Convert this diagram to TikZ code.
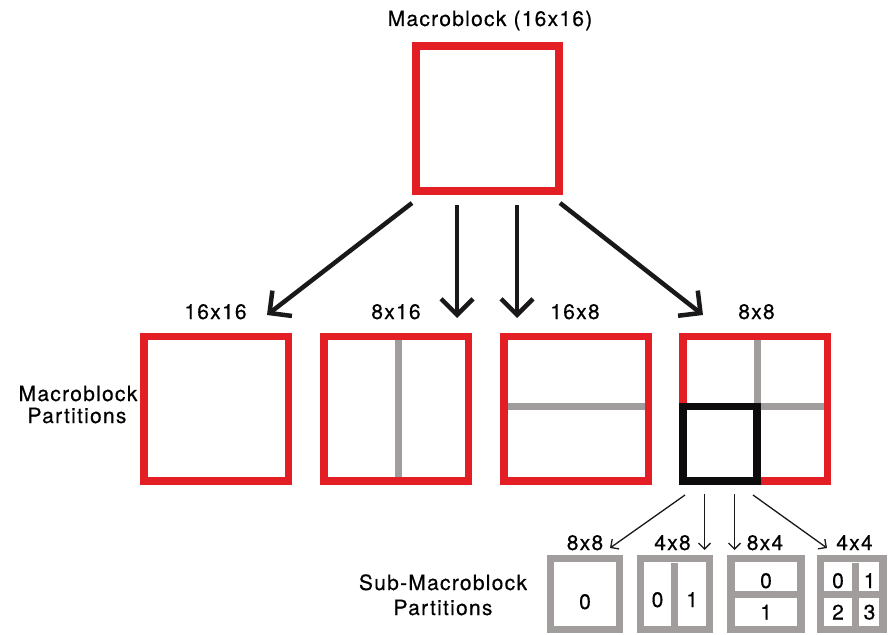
\documentclass[tikz,border=0pt]{standalone}
\usepackage{fontspec}
\setmainfont{TeX Gyre Heros}[LetterSpace=6, FakeBold=0.5]
\usetikzlibrary{arrows.meta}

\definecolor{mbred}{HTML}{E31E24}
\definecolor{mbgray}{HTML}{A19D9D}
\definecolor{mbblack}{HTML}{0D0B0B}
\definecolor{arrowc}{HTML}{1A1818}

\tikzset{
  lbl/.style={anchor=base, inner sep=0pt, font=\fontsize{21}{24}\selectfont},
  redsq/.style={draw=mbred, line width=7.5pt, minimum width=144.5pt, minimum height=144.5pt, inner sep=0pt},
  blacksq/.style={draw=mbblack, line width=7.5pt, minimum width=74.25pt, minimum height=74.25pt, inner sep=0pt},
  graybox/.style={draw=mbgray, line width=7.2pt, minimum height=70.5pt, inner sep=0pt},
  divider/.style={draw=mbgray, line width=7pt},
  bigarrow/.style={draw=arrowc, line width=4.5pt, -{Straight Barb[length=16pt,width=32pt]}},
  smallarrow/.style={draw=arrowc, line width=1.3pt, -{Straight Barb[length=6pt,width=12pt]}},
}

\begin{document}
\begin{tikzpicture}[x=1pt, y=-1pt]
\useasboundingbox (0,0) rectangle (888,634);

% top macroblock
\node[lbl] (title) at (490,26) {Macroblock (16x16)};
\node[redsq, line width=8pt, minimum width=143.5pt, minimum height=145pt] (mb) at (487.5,118.5) {};

% macroblock partitions
\node[redsq] (p1) at (216,408.5) {};
\node[redsq] (p2) at (396,408.5) {};
\node[redsq] (p3) at (576.3,408.5) {};
\node[redsq] (p4) at (755,408.5) {};

\draw[divider] (398,340) -- (398,477.2);
\draw[divider] (507.8,406.7) -- (644.8,406.7);
\draw[divider] (757.5,340) -- (757.5,477);
\draw[divider] (686.5,406.7) -- (823.5,406.7);
\node[blacksq] (sub) at (719.875,443.625) {};

\node[lbl] (l1) at (215.5,319) {16x16};
\node[lbl] (l2) at (396,319) {8x16};
\node[lbl] (l3) at (575,319) {16x8};
\node[lbl] (l4) at (756.5,319) {8x8};

\node[lbl] (mp1) at (78,401) {Macroblock};
\node[lbl] (mp2) at (77,423) {Partitions};

% arrows from the macroblock to its partitions
\coordinate (a1s) at (412,203); \coordinate (a1e) at (267,315);
\coordinate (a2s) at (457,205); \coordinate (a2e) at (457,318);
\coordinate (a3s) at (517,205); \coordinate (a3e) at (517,318);
\coordinate (a4s) at (560,203); \coordinate (a4e) at (703,315);
\draw[bigarrow] (a1s) -- (a1e);
\draw[bigarrow] (a2s) -- (a2e);
\draw[bigarrow] (a3s) -- (a3e);
\draw[bigarrow] (a4s) -- (a4e);

% sub-macroblock partitions
\node[graybox, minimum width=68.5pt] (s1) at (585,594) {};
\node[graybox, minimum width=69pt] (s2) at (675,594) {};
\node[graybox, minimum width=70pt] (s3) at (766,594) {};
\node[graybox, minimum width=62.5pt] (s4) at (851.75,594) {};

\draw[divider] (674.5,562.5) -- (674.5,625.5);
\draw[divider] (734.6,594.7) -- (797.4,594.7);
\draw[divider] (855,562.5) -- (855,625.5);
\draw[divider] (824.1,594.7) -- (879.4,594.7);

\node[lbl] (d10) at (585,609) {0};
\node[lbl] (d20) at (657.5,607) {0};
\node[lbl] (d21) at (692,607) {1};
\node[lbl] (d30) at (766,588) {0};
\node[lbl] (d31) at (766,619.5) {1};
\node[lbl] (d40) at (838,588) {0};
\node[lbl] (d41) at (869.5,588) {1};
\node[lbl] (d42) at (838,619.5) {2};
\node[lbl] (d43) at (869.5,619.5) {3};

\node[lbl] (sl1) at (585,550) {8x8};
\node[lbl] (sl2) at (672.5,550) {4x8};
\node[lbl] (sl3) at (765,550) {8x4};
\node[lbl] (sl4) at (854.5,550) {4x4};

\node[lbl] (smp1) at (443,590) {Sub-Macroblock};
\node[lbl] (smp2) at (443,615) {Partitions};

% arrows from the 8x8 partition to its sub-partitions
\coordinate (b1s) at (685,495); \coordinate (b1e) at (610,548);
\coordinate (b2s) at (704.5,494); \coordinate (b2e) at (704.5,550);
\coordinate (b3s) at (734.5,494); \coordinate (b3e) at (734.5,550);
\coordinate (b4s) at (753,495); \coordinate (b4e) at (827,548);
\draw[smallarrow] (b1s) -- (b1e);
\draw[smallarrow] (b2s) -- (b2e);
\draw[smallarrow] (b3s) -- (b3e);
\draw[smallarrow] (b4s) -- (b4e);
\end{tikzpicture}
\end{document}
